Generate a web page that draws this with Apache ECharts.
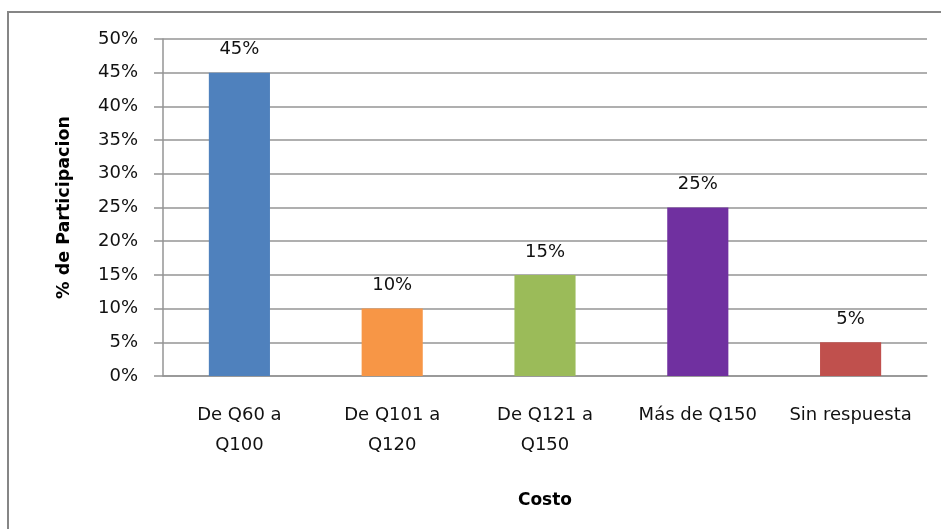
<!DOCTYPE html>
<html>
<head>
<meta charset="utf-8">
<script src="https://cdn.jsdelivr.net/npm/echarts@6/dist/echarts.min.js"></script>
<style>
html,body{margin:0;padding:0;background:#fff;}
#chart{width:941px;height:529px;}
</style>
</head>
<body>
<div id="chart"></div>
<script>
// Cost ranges and share of participants
const categories = ['De Q60 a Q100', 'De Q101 a Q120', 'De Q121 a Q150', 'Más de Q150', 'Sin respuesta'];
const values = [45, 10, 15, 25, 5];
const barColors = ['#4F81BD', '#F79646', '#9BBB59', '#7030A0', '#C0504D'];
const yTicks = [0, 5, 10, 15, 20, 25, 30, 35, 40, 45, 50];

const font = '"DejaVu Sans", sans-serif';
const chart = echarts.init(document.getElementById('chart'));

chart.setOption({
  animation: false,
  backgroundColor: '#fff',
  graphic: [{
    type: 'rect',
    shape: { x: 8, y: 12, width: 1000, height: 600 },
    style: { fill: 'none', stroke: '#868686', lineWidth: 2 },
    silent: true
  }],
  grid: { left: 163, right: 14, top: 39, bottom: 153 },
  xAxis: {
    type: 'category',
    data: categories,
    name: 'Costo',
    nameLocation: 'middle',
    nameGap: 116,
    nameTextStyle: { fontFamily: font, fontSize: 17, fontWeight: 'bold', color: '#000' },
    axisLine: { lineStyle: { color: '#949494', width: 1.5 } },
    axisTick: { show: false },
    axisLabel: {
      fontFamily: font, fontSize: 18, color: '#111', margin: 24,
      lineHeight: 30, interval: 0,
      // range labels wrap after the connecting "a"
      formatter: v => v.replace(' a ', ' a\n')
    }
  },
  yAxis: {
    type: 'value',
    min: yTicks[0],
    max: yTicks[yTicks.length - 1],
    interval: 5,
    name: '% de Participacion',
    nameLocation: 'middle',
    nameGap: 90,
    nameTextStyle: { fontFamily: font, fontSize: 17.5, fontWeight: 'bold', color: '#000' },
    axisLine: { show: true, lineStyle: { color: '#949494', width: 1.5 } },
    axisTick: { show: true, inside: false, length: 9, lineStyle: { color: '#949494', width: 1.5 } },
    splitLine: { lineStyle: { color: '#949494', width: 1.5 } },
    axisLabel: { fontFamily: font, fontSize: 18, color: '#111', margin: 25, formatter: '{value}%' }
  },
  series: [{
    type: 'bar',
    data: values.map((v, i) => ({ value: v, itemStyle: { color: barColors[i] } })),
    barWidth: '40%',
    label: {
      show: true, position: 'top', distance: 14,
      fontFamily: font, fontSize: 18, color: '#111',
      formatter: p => p.value + '%'
    }
  }]
});
</script>
</body>
</html>
